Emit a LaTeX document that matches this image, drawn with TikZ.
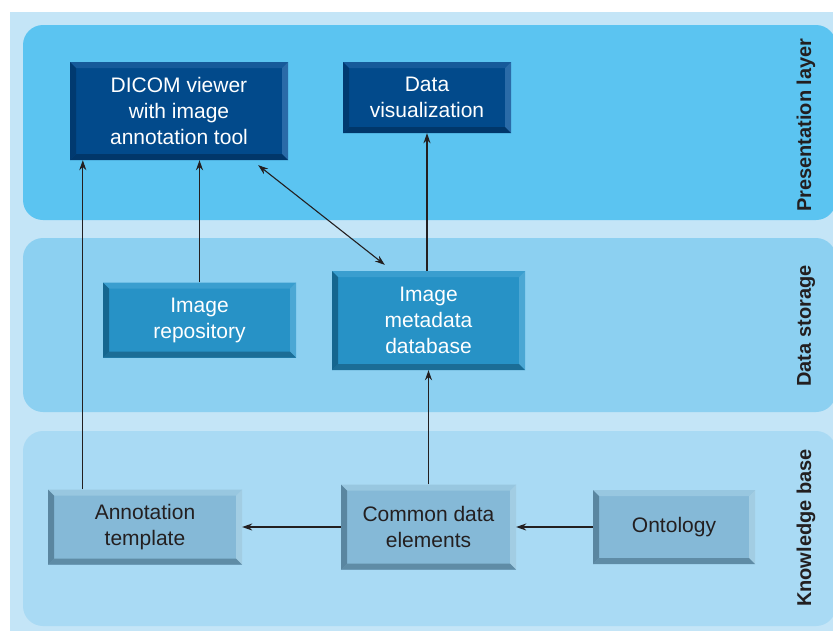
\documentclass[tikz,border=0pt]{standalone}
\usepackage{fontspec}
\setmainfont{Liberation Sans}
\usepackage{tikz}
\usetikzlibrary{calc,positioning,backgrounds,arrows.meta}
\usepackage{xcolor}
\definecolor{bgCol}{HTML}{C4E5F7}
\definecolor{presPanel}{HTML}{5BC4F1}
\definecolor{storPanel}{HTML}{8CD0F1}
\definecolor{knowPanel}{HTML}{A9DAF4}
\definecolor{presFill}{HTML}{024A8B}
\definecolor{presTop}{HTML}{165A9A}
\definecolor{presRight}{HTML}{2A6BA8}
\definecolor{presLeft}{HTML}{013A70}
\definecolor{presBottom}{HTML}{01376A}
\definecolor{storFill}{HTML}{2792C6}
\definecolor{storTop}{HTML}{3A9ECF}
\definecolor{storRight}{HTML}{4BA7D4}
\definecolor{storLeft}{HTML}{15668F}
\definecolor{storBottom}{HTML}{1B6D96}
\definecolor{knowFill}{HTML}{85B9D7}
\definecolor{knowTop}{HTML}{98C7E0}
\definecolor{knowRight}{HTML}{A2CDE3}
\definecolor{knowLeft}{HTML}{5A86A0}
\definecolor{knowBottom}{HTML}{5F8CA6}
\definecolor{inkCol}{HTML}{231F20}
\tikzset{
  bevel/.style n args={4}{path picture={
    \path (path picture bounding box.north west) coordinate (pnw)
          (path picture bounding box.north east) coordinate (pne)
          (path picture bounding box.south west) coordinate (psw)
          (path picture bounding box.south east) coordinate (pse);
    \fill[#1] (pnw) -- (pne) -- ($(pne)+(-6,6)$) -- ($(pnw)+(6,6)$) -- cycle;
    \fill[#2] (pne) -- (pse) -- ($(pse)+(-6,-6)$) -- ($(pne)+(-6,6)$) -- cycle;
    \fill[#3] (psw) -- (pse) -- ($(pse)+(-6,-6)$) -- ($(psw)+(6,-6)$) -- cycle;
    \fill[#4] (pnw) -- (psw) -- ($(psw)+(6,-6)$) -- ($(pnw)+(6,6)$) -- cycle;
  }}
}
\tikzstyle{layers}=[
  x=1pt,y=-1pt,>={Stealth[length=10pt,width=7pt]},font=\fontsize{21}{26}\selectfont
]
\tikzstyle{panel}=[
  rounded corners=20pt
]
\tikzstyle{box}=[
  rectangle,inner sep=0pt,align=center
]
\tikzstyle{presbox}=[
  box,fill=presFill,text=white,bevel={presTop}{presRight}{presBottom}{presLeft}
]
\tikzstyle{storbox}=[
  box,fill=storFill,text=white,bevel={storTop}{storRight}{storBottom}{storLeft}
]
\tikzstyle{knowbox}=[
  box,fill=knowFill,text=inkCol,bevel={knowTop}{knowRight}{knowBottom}{knowLeft}
]
\tikzstyle{sidelabel}=[
  rotate=90,inner sep=0pt,text=inkCol,font=\fontsize{20}{24}\selectfont\bfseries
]
\tikzstyle{link}=[
  line width=1.1pt,draw=inkCol
]

\begin{document}
\begin{tikzpicture}[layers]
    \useasboundingbox (0,0) rectangle (833,630);
    \fill[white] (0,0) rectangle (833,630);
    \fill[bgCol] (10,12) rectangle (845,640);
    % layers
    \fill[panel,presPanel] (23,25) rectangle (836,220);
    \fill[panel,storPanel] (23,238) rectangle (836,412);
    \fill[panel,knowPanel] (23,431) rectangle (836,626);
    \node (lpres) [sidelabel] at (806,125) {Presentation layer};
    \node (lstor) [sidelabel] at (806,326) {Data storage};
    \node (lknow) [sidelabel] at (806,528) {Knowledge base};
    % boxes
    \node (dicom) [presbox,minimum width=218,minimum height=98] at (179,111)
      {DICOM viewer\\with image\\annotation tool};
    \node (dataviz) [presbox,minimum width=168,minimum height=71] at (427,97.5)
      {Data\\visualization};
    \node (repo) [storbox,minimum width=193,minimum height=75] at (199.5,320)
      {Image\\repository};
    \node (metadb) [storbox,minimum width=193,minimum height=99] at (428.5,320.5)
      {Image\\metadata\\database};
    \node (annot) [knowbox,minimum width=194,minimum height=75] at (145,527)
      {Annotation\\template};
    \node (cde) [knowbox,minimum width=175,minimum height=85] at (428.5,527)
      {Common data\\elements};
    \node (onto) [knowbox,minimum width=162,minimum height=74] at (674,527)
      {Ontology};
    % connectors
    \coordinate (annotup) at ($(annot.north west)+(35,0)$);
    \draw [link,->] (annotup) -- (annotup |- dicom.south);
    \draw [link,->] (repo.north) -- (repo.north |- dicom.south);
    \draw [link,<->] ($(dicom.south east)+(-30,5)$) -- ($(metadb.north west)+(53,-6)$);
    \draw [link,->] (metadb.north -| dataviz.south) -- (dataviz.south);
    \draw [link,->] (cde.north) -- (cde.north |- metadb.south);
    \draw [link,->] (cde.west) -- (annot.east);
    \draw [link,->] (onto.west) -- (cde.east);
\end{tikzpicture}
\end{document}
